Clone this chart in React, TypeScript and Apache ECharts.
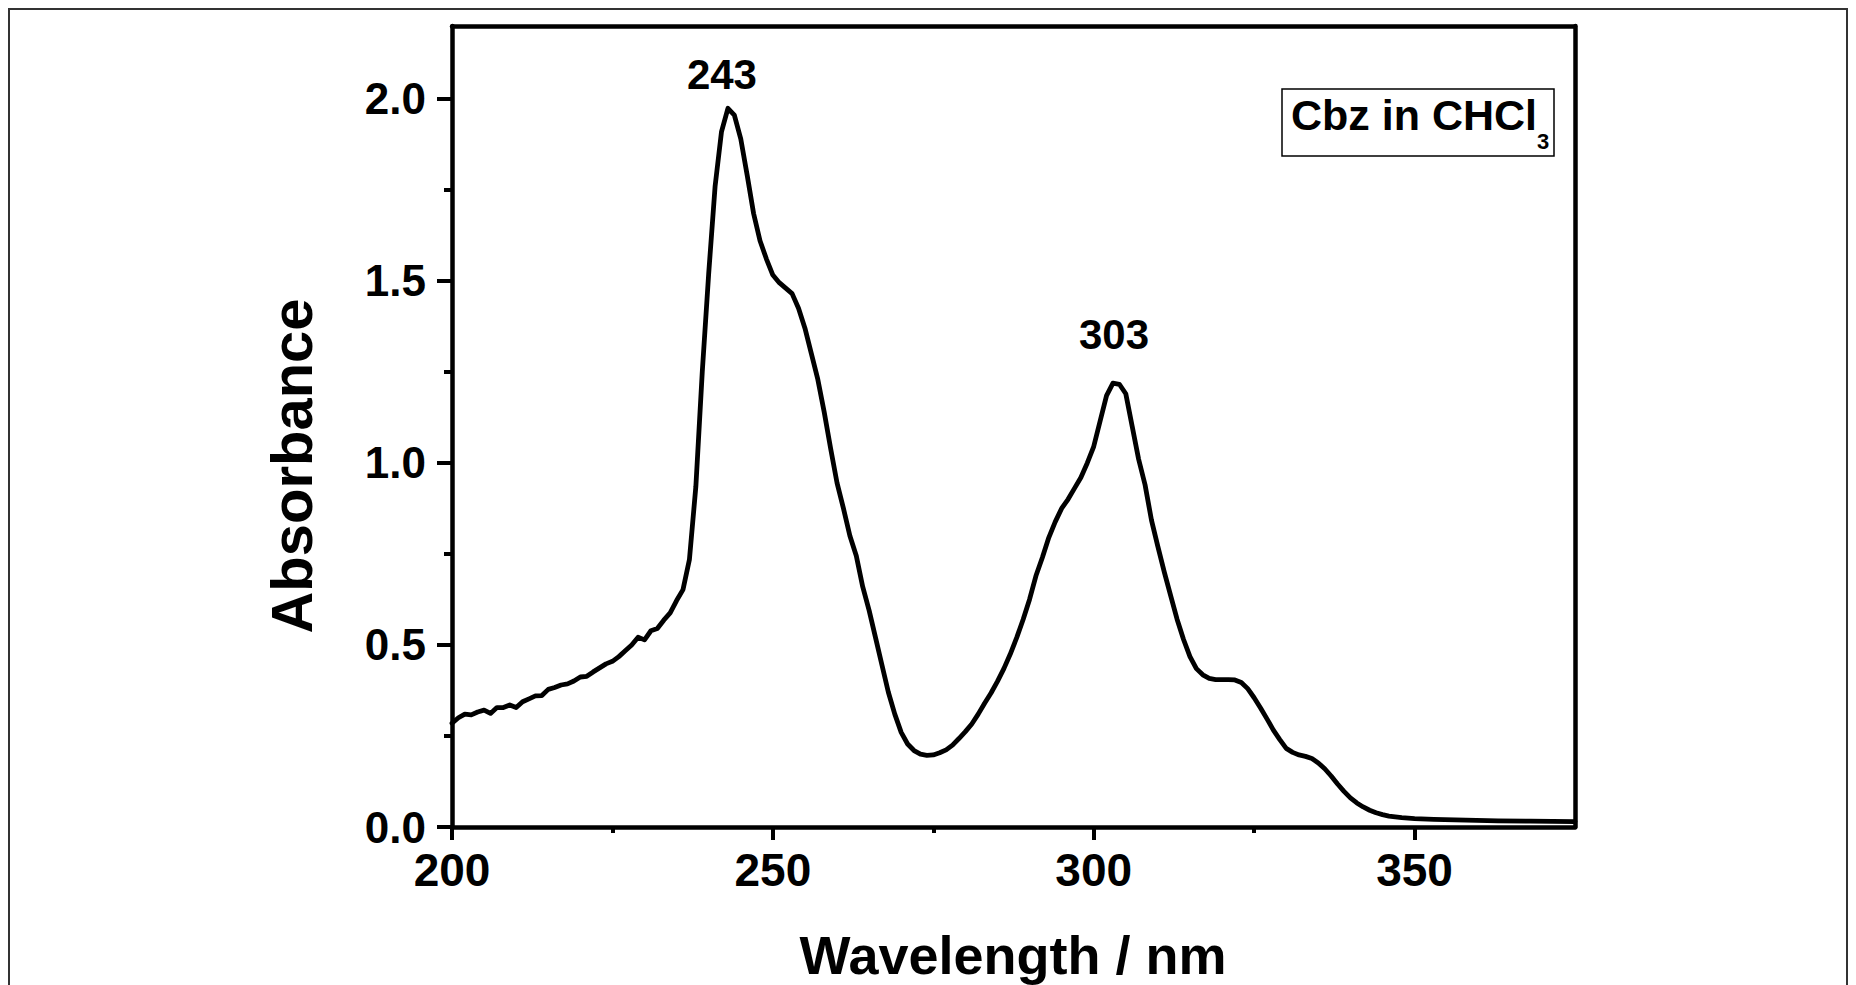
import React, { useEffect, useRef } from "react";
import * as echarts from "echarts";

const wavelengths = [
  200, 201, 202, 203, 204, 205, 206, 207, 208, 209,
  210, 211, 212, 213, 214, 215, 216, 217, 218, 219,
  220, 221, 222, 223, 224, 225, 226, 227, 228, 229,
  230, 231, 232, 233, 234, 235, 236, 237, 238, 239,
  240, 241, 242, 243, 244, 245, 246, 247, 248, 249,
  250, 251, 252, 253, 254, 255, 256, 257, 258, 259,
  260, 261, 262, 263, 264, 265, 266, 267, 268, 269,
  270, 271, 272, 273, 274, 275, 276, 277, 278, 279,
  280, 281, 282, 283, 284, 285, 286, 287, 288, 289,
  290, 291, 292, 293, 294, 295, 296, 297, 298, 299,
  300, 301, 302, 303, 304, 305, 306, 307, 308, 309,
  310, 311, 312, 313, 314, 315, 316, 317, 318, 319,
  320, 321, 322, 323, 324, 325, 326, 327, 328, 329,
  330, 331, 332, 333, 334, 335, 336, 337, 338, 339,
  340, 341, 342, 343, 344, 345, 346, 347, 348,
  350, 353, 358, 363, 368, 375,
];

const absorbance = [
  0.285, 0.3, 0.31, 0.308, 0.316, 0.321, 0.312, 0.328, 0.328, 0.335,
  0.328, 0.344, 0.352, 0.36, 0.361, 0.378, 0.383, 0.39, 0.393, 0.401,
  0.412, 0.414, 0.426, 0.437, 0.448, 0.455, 0.468, 0.484, 0.5, 0.521,
  0.514, 0.539, 0.545, 0.568, 0.588, 0.622, 0.652, 0.735, 0.935, 1.25,
  1.52, 1.76, 1.91, 1.974, 1.955, 1.89, 1.79, 1.685, 1.61, 1.56,
  1.516, 1.495, 1.48, 1.465, 1.425, 1.37, 1.3, 1.23, 1.14, 1.04,
  0.945, 0.875, 0.8, 0.745, 0.66, 0.595, 0.52, 0.445, 0.37, 0.31,
  0.26, 0.228, 0.21, 0.2, 0.197, 0.198, 0.204, 0.212, 0.225, 0.243,
  0.262, 0.283, 0.31, 0.34, 0.368, 0.4, 0.435, 0.475, 0.52, 0.57,
  0.625, 0.69, 0.74, 0.795, 0.838, 0.875, 0.9, 0.93, 0.96, 1.0,
  1.045, 1.115, 1.185, 1.219, 1.216, 1.19, 1.1, 1.01, 0.94, 0.843,
  0.77, 0.7, 0.635, 0.57, 0.515, 0.468, 0.435, 0.418, 0.408, 0.405,
  0.405, 0.405, 0.404, 0.397, 0.38, 0.355, 0.327, 0.297, 0.266, 0.24,
  0.216, 0.205, 0.198, 0.194, 0.188, 0.176, 0.16, 0.14, 0.118, 0.098,
  0.08, 0.066, 0.055, 0.046, 0.039, 0.034, 0.03, 0.028, 0.026,
  0.023, 0.021, 0.019, 0.017, 0.016, 0.015,
];

const peakWavelengths = [243, 303];
const peakAbsorbance = [1.974, 1.219];

const xMajorTicks = [200, 250, 300, 350];
const xMinorTicks = [225, 275, 325];
const yMajorTicks = [0, 0.5, 1.0, 1.5, 2.0];
const yMinorTicks = [0.25, 0.75, 1.25, 1.75];

const xTitle = "Wavelength / nm";
const yTitle = "Absorbance";
const legendMain = "Cbz in CHCl";
const legendSub = "3";

const FONT = '"Liberation Sans", Arial, Helvetica, sans-serif';

export default function App() {
  const ref = useRef<HTMLDivElement>(null);

  useEffect(() => {
    if (!ref.current) return;
    const chart = echarts.init(ref.current, null, { renderer: "svg" });

    const xBase = { type: "value", min: 200, max: 375, interval: 50 };
    const yBase = { type: "value", min: 0, max: 2.2 };

    const option: any = {
      animation: false,
      backgroundColor: "#fff",
      grid: { left: 452, top: 26, right: 281, bottom: 158, containLabel: false },
      xAxis: [
        {
          ...xBase,
          position: "bottom",
          axisLine: { show: true, onZero: false, lineStyle: { color: "#000", width: 4.5 } },
          axisTick: {
            show: true,
            inside: false,
            length: 13,
            customValues: xMajorTicks,
            lineStyle: { color: "#000", width: 4 },
          },
          axisLabel: {
            show: true,
            customValues: xMajorTicks,
            margin: 20,
            color: "#000",
            fontSize: 46,
            fontWeight: "bold",
            fontFamily: FONT,
          },
          splitLine: { show: false },
        },
        {
          ...xBase,
          position: "bottom",
          axisLine: { show: false, onZero: false },
          axisTick: {
            show: true,
            inside: false,
            length: 6,
            customValues: xMinorTicks,
            lineStyle: { color: "#000", width: 4 },
          },
          axisLabel: { show: false },
          splitLine: { show: false },
        },
        {
          ...xBase,
          position: "top",
          axisLine: { show: true, onZero: false, lineStyle: { color: "#000", width: 4.5 } },
          axisTick: { show: false },
          axisLabel: { show: false },
          splitLine: { show: false },
        },
      ],
      yAxis: [
        {
          ...yBase,
          position: "left",
          axisLine: { show: true, onZero: false, lineStyle: { color: "#000", width: 4.5 } },
          axisTick: {
            show: true,
            inside: false,
            length: 15,
            customValues: yMajorTicks,
            lineStyle: { color: "#000", width: 4 },
          },
          axisLabel: {
            show: true,
            customValues: yMajorTicks,
            formatter: (v: number) => v.toFixed(1),
            margin: 26,
            color: "#000",
            fontSize: 44,
            fontWeight: "bold",
            fontFamily: FONT,
          },
          splitLine: { show: false },
        },
        {
          ...yBase,
          position: "left",
          axisLine: { show: false, onZero: false },
          axisTick: {
            show: true,
            inside: false,
            length: 8,
            customValues: yMinorTicks,
            lineStyle: { color: "#000", width: 4 },
          },
          axisLabel: { show: false },
          splitLine: { show: false },
        },
        {
          ...yBase,
          position: "right",
          axisLine: { show: true, onZero: false, lineStyle: { color: "#000", width: 4.5 } },
          axisTick: { show: false },
          axisLabel: { show: false },
          splitLine: { show: false },
        },
      ],
      series: [
        {
          type: "line",
          xAxisIndex: 0,
          yAxisIndex: 0,
          data: wavelengths.map((w, i) => [w, absorbance[i]]),
          showSymbol: false,
          symbol: "none",
          smooth: false,
          lineStyle: { color: "#000", width: 4.8, join: "round", cap: "round" },
          silent: true,
          markPoint: {
            symbol: "circle",
            symbolSize: 1,
            itemStyle: { color: "rgba(0,0,0,0)" },
            silent: true,
            label: {
              show: true,
              position: "top",
              formatter: "{b}",
              color: "#000",
              fontSize: 42,
              fontWeight: "bold",
              fontFamily: FONT,
            },
            data: peakWavelengths.map((w, i) => ({
              name: String(w),
              coord: [w, peakAbsorbance[i]],
              label: i === 0 ? { distance: 12, offset: [-6, 0] } : { distance: 27, offset: [1, 0] },
            })),
          },
        },
      ],
      graphic: [
        {
          type: "rect",
          silent: true,
          shape: { x: 9, y: 9, width: 1838, height: 990 },
          style: { fill: "none", stroke: "#333", lineWidth: 2 },
        },
        {
          type: "text",
          silent: true,
          x: 291,
          y: 466,
          rotation: Math.PI / 2,
          style: {
            text: yTitle,
            fill: "#000",
            fontSize: 58,
            fontWeight: "bold",
            fontFamily: FONT,
            align: "center",
            verticalAlign: "middle",
          },
        },
        {
          type: "text",
          silent: true,
          x: 1013,
          y: 955,
          style: {
            text: xTitle,
            fill: "#000",
            fontSize: 54,
            fontWeight: "bold",
            fontFamily: FONT,
            align: "center",
            verticalAlign: "middle",
          },
        },
        {
          type: "rect",
          silent: true,
          shape: { x: 1282, y: 89, width: 272, height: 67 },
          style: { fill: "#fff", stroke: "#000", lineWidth: 1.5 },
        },
        {
          type: "text",
          silent: true,
          x: 1291,
          y: 115,
          style: {
            text: legendMain,
            fill: "#000",
            fontSize: 43,
            fontWeight: "bold",
            fontFamily: FONT,
            align: "left",
            verticalAlign: "middle",
          },
        },
        {
          type: "text",
          silent: true,
          x: 1537,
          y: 141,
          style: {
            text: legendSub,
            fill: "#000",
            fontSize: 22,
            fontWeight: "bold",
            fontFamily: FONT,
            align: "left",
            verticalAlign: "middle",
          },
        },
      ],
    };

    chart.setOption(option);
    return () => {
      chart.dispose();
    };
  }, []);

  return (
    <div
      ref={ref}
      style={{ position: "fixed", left: 0, top: 0, width: 1856, height: 985, background: "#fff" }}
    />
  );
}
